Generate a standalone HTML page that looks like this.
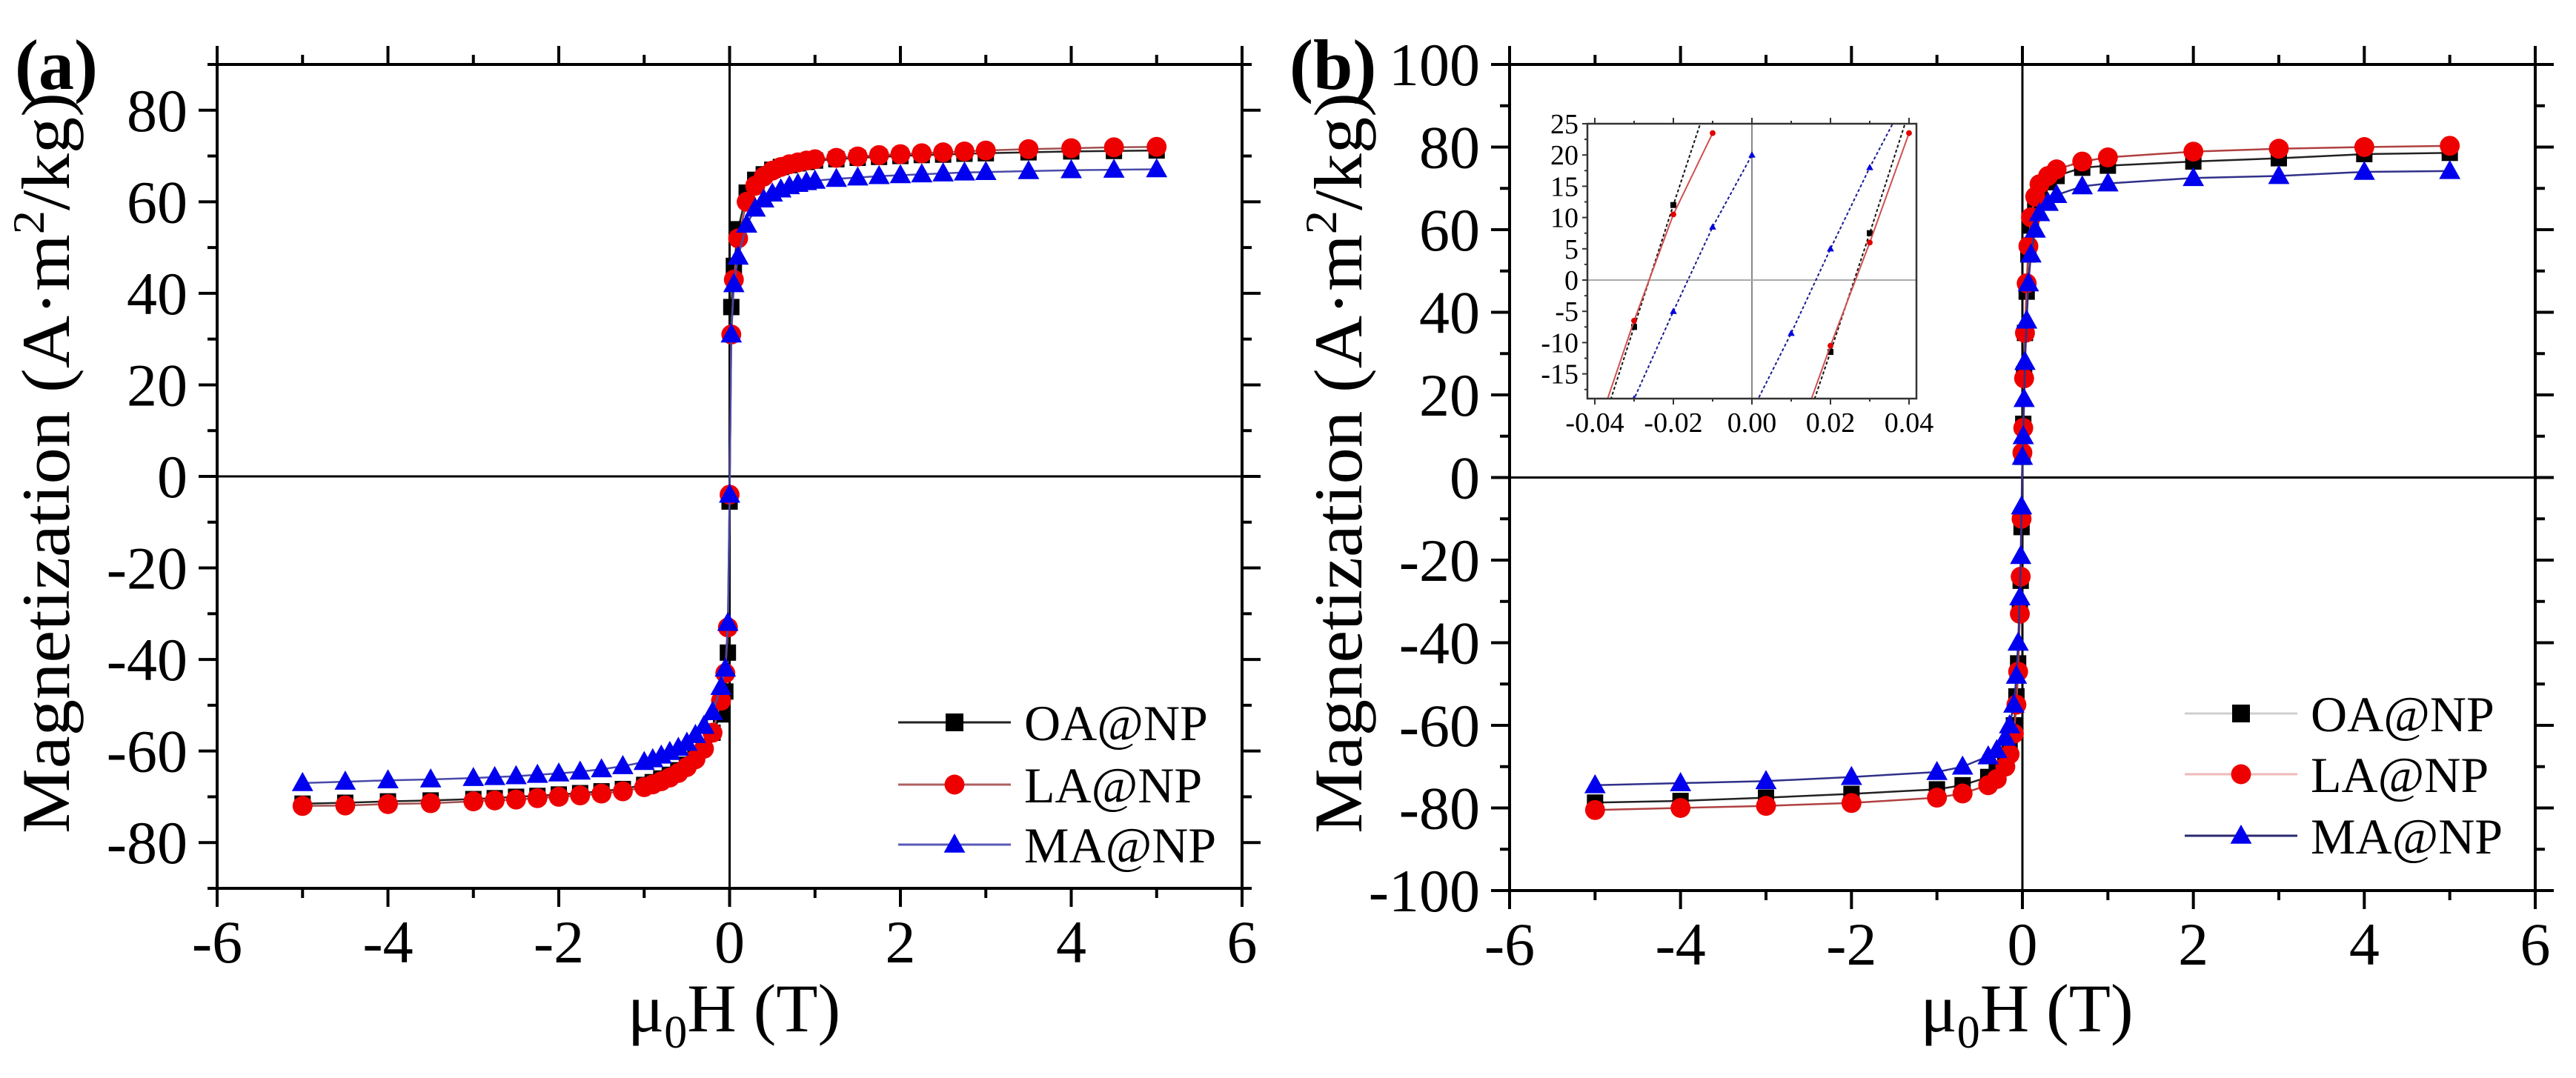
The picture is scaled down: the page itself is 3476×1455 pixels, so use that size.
<!DOCTYPE html>
<html><head><meta charset="utf-8">
<style>
html,body{margin:0;padding:0;background:#fff;}
svg{display:block;font-family:"Liberation Serif","Times New Roman",serif;}
svg text{font-family:"Liberation Serif","Times New Roman",serif;}
</style></head>
<body>
<svg id="fig" width="3476" height="1455" viewBox="0 0 3476 1455" xmlns="http://www.w3.org/2000/svg">
<defs>
<clipPath id="clipInset"><rect x="2142" y="167" width="444" height="371"/></clipPath>
</defs>
</svg>
<script>
// ---------- Panel (a) data ----------
const xA = [-5,-4.5,-4,-3.5,-3,-2.75,-2.5,-2.25,-2,-1.75,-1.5,-1.25,-1,-0.9,-0.8,-0.7,-0.6,-0.5,-0.4,-0.3,-0.2,-0.1,-0.05,-0.02,0,0.02,0.05,0.1,0.2,0.3,0.4,0.5,0.6,0.7,0.8,0.9,1,1.25,1.5,1.75,2,2.25,2.5,2.75,3,3.5,4,4.5,5];
const oaA = [-71.5,-71.3,-71,-70.8,-70.5,-70.3,-70,-69.8,-69.5,-69.2,-68.8,-68.3,-67.4,-66.8,-66,-65.2,-64.2,-63,-61.3,-59,-56,-52,-47,-38.5,-5.5,37,46,54,62,64.8,66,67,67.6,68,68.4,68.7,69,69.3,69.6,69.8,70,70.2,70.3,70.5,70.6,70.8,71,71.1,71.2];
const laA = [-72,-71.9,-71.6,-71.4,-71,-70.8,-70.6,-70.3,-70,-69.7,-69.3,-68.8,-67.9,-67.3,-66.6,-65.8,-64.8,-63.5,-61.8,-59.5,-56,-49,-43,-33,-4,31,43,52,60,63.5,65.5,66.8,67.6,68.2,68.6,69,69.3,69.6,69.9,70.2,70.4,70.6,70.8,71,71.2,71.5,71.7,71.9,72];
const maA = [-67,-66.7,-66.4,-66.2,-65.9,-65.7,-65.5,-65.2,-64.9,-64.5,-64,-63.3,-62.4,-61.8,-61,-60.2,-59.3,-58.2,-56.5,-54.5,-51.5,-46,-42,-32,-4,31,42,48,55,58.5,60.5,61.8,62.7,63.4,63.9,64.3,64.6,65,65.3,65.6,65.8,66,66.2,66.4,66.5,66.7,66.9,67,67.1];
const yTicksA = [-80,-60,-40,-20,0,20,40,60,80];
const xTicks = [-6,-4,-2,0,2,4,6];

// ---------- Panel (b) data ----------
const xB = [-5,-4,-3,-2,-1,-0.7,-0.4,-0.3,-0.2,-0.15,-0.1,-0.07,-0.05,-0.03,-0.02,-0.01,0,0.01,0.02,0.03,0.05,0.07,0.1,0.15,0.2,0.3,0.4,0.7,1,2,3,4,5];
const oaB = [-78.7,-78.3,-77.5,-76.6,-75.5,-74.5,-72.5,-71,-68,-65,-60,-53,-45,-32,-25,-12,5,13,25,35,45,54,61,66,69,71.5,73,75,75.5,76.5,77.3,78.3,78.6];
const laB = [-80.5,-80,-79.5,-78.8,-77.5,-76.5,-74.5,-73,-70,-67,-62,-55,-47,-33,-24,-10,6,12,24,35,47,56,63,68,71,73,74.6,76.5,77.5,78.9,79.6,80,80.3];
const maB = [-74.5,-74,-73.5,-72.5,-71.3,-70,-67.5,-66,-63,-60,-55,-48,-40,-29,-19,-7,5,10,19,28,38,47,54,60,64,66.5,68.4,70.5,71.2,72.5,73,74,74.2];
const yTicksB = [-100,-80,-60,-40,-20,0,20,40,60,80,100];

// ---------- Inset data ----------
const xInDesc = [-0.04,-0.03,-0.02,-0.01];
const oaInDesc = [-27,-7.5,12,31];
const laInDesc = [-25,-6.5,10.5,23.5];
const xInDescMA = [-0.04,-0.03,-0.02,-0.01,0];
const maInDesc = [-33,-19,-5,8.5,20];
const xInAsc = [0.01,0.02,0.03,0.04];
const oaInAsc = [-30,-11.5,7.5,27];
const laInAsc = [-28,-10.5,6,23.5];
const xInAscMA = [0,0.01,0.02,0.03,0.04];
const maInAsc = [-21,-8.5,5,18,30];
const yTicksIn = [-15,-10,-5,0,5,10,15,20,25];
const xTicksIn = [-0.04,-0.02,0,0.02,0.04];
const xTickLabelsIn = ["-0.04","-0.02","0.00","0.02","0.04"];

const NS = "http://www.w3.org/2000/svg";
const FONT = '"Liberation Serif","Times New Roman",serif';
const svg = document.getElementById('fig');
function mk(tag, attrs, parent){
  const e = document.createElementNS(NS, tag);
  for (const k in attrs) e.setAttribute(k, attrs[k]);
  if (tag==='text') e.setAttribute('font-family', FONT);
  (parent||svg).appendChild(e);
  return e;
}
function scale(d0,d1,r0,r1){ return v => r0 + (v-d0)*(r1-r0)/(d1-d0); }

function marker(g, type, x, y, s, fill){
  let e;
  if (type==='square') e = mk('rect',{x:x-s,y:y-s,width:2*s,height:2*s,fill:fill},g);
  else if (type==='circle') e = mk('circle',{cx:x,cy:y,r:s*1.12,fill:fill},g);
  else e = mk('polygon',{points:`${x},${y-s*1.25} ${x+s*1.2},${y+s*0.9} ${x-s*1.2},${y+s*0.9}`,fill:fill},g);
  return e;
}

function series(g, xs, ys, sx, sy, lineColor, type, fill, s, dash, lw){
  const d = xs.map((v,i)=>(i?'L':'M')+sx(v).toFixed(1)+','+sy(ys[i]).toFixed(1)).join(' ');
  const p = mk('path',{d:d,fill:'none',stroke:lineColor,'stroke-width':lw||2.5},g);
  if (dash) p.setAttribute('stroke-dasharray',dash);
  
  
  xs.forEach((v,i)=>{
    const m = marker(g,type,sx(v),sy(ys[i]),s,fill);
    
    
  });
}

function panel(opt){
  const g = mk('g',{});
  
  
  const {L,R,T,B} = opt;
  const sx = scale(-6,6,L,R), sy = scale(opt.ymin,opt.ymax,B,T);
  const zx = mk('line',{x1:sx(0),x2:sx(0),y1:T,y2:B,stroke:'#000','stroke-width':3},g);
   
  const zy = mk('line',{x1:L,x2:R,y1:sy(0),y2:sy(0),stroke:'#000','stroke-width':3},g);
   
  const sg = mk('g',{},g);
   
  opt.series.forEach(s=>series(sg,opt.xs,s.ys,sx,sy,s.line,s.type,s.fill,s.size,null,2.5));
  const fr = mk('rect',{x:L,y:T,width:R-L,height:B-T,fill:'none',stroke:'#000','stroke-width':4},g);
   
  const tg = mk('g',{stroke:'#000','stroke-width':4},g);
   
  for (let v=-6; v<=6; v+=1){
    const len = (v%2===0)?25:13, X=sx(v);
    mk('line',{x1:X,x2:X,y1:B,y2:B+len},tg);
    mk('line',{x1:X,x2:X,y1:T,y2:T-len},tg);
  }
  for (let v=opt.ymin; v<=opt.ymax; v+=10){
    const major = opt.yTicks.indexOf(v)>=0;
    const len = major?25:13, Y=sy(v);
    mk('line',{x1:L,x2:L-len,y1:Y,y2:Y},tg);
    mk('line',{x1:R,x2:R+len,y1:Y,y2:Y},tg);
  }
  opt.yTicks.forEach(v=>{
    const t = mk('text',{x:L-40,y:sy(v)+28,'text-anchor':'end','font-size':82},g);
    t.textContent = v;
     
  });
  xTicks.forEach(v=>{
    const t = mk('text',{x:sx(v),y:B+100,'text-anchor':'middle','font-size':82},g);
    t.textContent = v;
     
  });
  const xt = mk('text',{x:sx(0)+6,y:1392,'text-anchor':'middle','font-size':92},g);
   
  xt.innerHTML = 'μ<tspan font-size="62" dy="22">0</tspan><tspan dy="-22">H (T)</tspan>';
  const yx = L-200, yc = 625;
  const yt = mk('text',{x:0,y:0,'text-anchor':'middle','font-size':92,textLength:1000,lengthAdjust:'spacingAndGlyphs',transform:`translate(${yx},${yc}) rotate(-90)`},g);
   
  yt.innerHTML = 'Magnetization (A·m<tspan font-size="60" dy="-34">2</tspan><tspan dy="34">/kg)</tspan>';
  const pl = mk('text',{x:opt.labX,y:120,'font-size':96,'font-weight':'bold'},g);
  pl.textContent = opt.label;
   
  const lg = mk('g',{},g);
   
  opt.series.forEach((s,i)=>{
    const y = opt.legY[i];
    const e = mk('g',{},lg);
     
    mk('line',{x1:opt.legX,x2:opt.legX+152,y1:y,y2:y,stroke:s.legLine,'stroke-width':3},e);
    marker(e,s.type,opt.legX+76,y,12,s.fill);
    const t = mk('text',{x:opt.legX+170,y:y+24,'font-size':68},e);
    t.textContent = s.name;
  });
  return {sx,sy};
}

panel({name:'panel-a',L:293,R:1676,T:87,B:1199,ymin:-90,ymax:90,yTicks:yTicksA,xs:xA,label:'(a)',labX:20,
  legX:1212,legY:[975,1059,1140],
  series:[
   {name:'OA@NP',ys:oaA,line:'#222',legLine:'#222',type:'square',fill:'#000',size:11},
   {name:'LA@NP',ys:laA,line:'#a05050',legLine:'#b06060',type:'circle',fill:'#ee0000',size:12},
   {name:'MA@NP',ys:maA,line:'#4a4aa8',legLine:'#5a5ab8',type:'triangle',fill:'#0000ee',size:12}
  ]});

panel({name:'panel-b',L:2037,R:3421,T:87,B:1202,ymin:-100,ymax:100,yTicks:yTicksB,xs:xB,label:'(b)',labX:1740,
  legX:2948,legY:[963,1045,1128],
  series:[
   {name:'OA@NP',ys:oaB,line:'#222',legLine:'#cfcfcf',type:'square',fill:'#000',size:11},
   {name:'LA@NP',ys:laB,line:'#b04040',legLine:'#f0b8b8',type:'circle',fill:'#ee0000',size:12},
   {name:'MA@NP',ys:maB,line:'#30308a',legLine:'#2a2a70',type:'triangle',fill:'#0000ee',size:12}
  ]});

(function(){
  const g = mk('g',{});
   
  const L=2142,R=2586,T=167,B=538;
  const sx = scale(-0.04,0.04,2152,2576), sy = scale(0,25,378,167);
  mk('rect',{x:L,y:T,width:R-L,height:B-T,fill:'#fff'},g);
  const z1 = mk('line',{x1:sx(0),x2:sx(0),y1:T,y2:B,stroke:'#888','stroke-width':2},g);
   
  const z2 = mk('line',{x1:L,x2:R,y1:sy(0),y2:sy(0),stroke:'#aaa','stroke-width':2},g);
   
  const cg = mk('g',{'clip-path':'url(#clipInset)'},g);
   
  series(cg,xInDesc,oaInDesc,sx,sy,'#111','square','#000',4,'4,3',2);
  series(cg,xInAsc,oaInAsc,sx,sy,'#111','square','#000',4,'4,3',2);
  series(cg,xInDesc,laInDesc,sx,sy,'#d05050','circle','#e00000',3.5,null,2);
  series(cg,xInAsc,laInAsc,sx,sy,'#d05050','circle','#e00000',3.5,null,2);
  series(cg,xInDescMA,maInDesc,sx,sy,'#1a1a90','triangle','#0000dd',4,'4,3',2);
  series(cg,xInAscMA,maInAsc,sx,sy,'#1a1a90','triangle','#0000dd',4,'4,3',2);
  const fr = mk('rect',{x:L,y:T,width:R-L,height:B-T,fill:'none',stroke:'#333','stroke-width':2.5},g);
   
  const tg = mk('g',{stroke:'#333','stroke-width':2},g);
  for (let v=-17.5; v<=25; v+=2.5){
    const len = (Math.abs(v%5)<0.01)?7:4;
    mk('line',{x1:L,x2:L-len,y1:sy(v),y2:sy(v)},tg);
  }
  for (let v=-0.04; v<=0.0401; v+=0.01){
    const major = Math.abs(Math.round(v*100))%2===0;
    const len = major?8:4;
    mk('line',{x1:sx(v),x2:sx(v),y1:B,y2:B+len},tg);
    mk('line',{x1:sx(v),x2:sx(v),y1:T,y2:T-len},tg);
  }
  yTicksIn.forEach(v=>{
    const t = mk('text',{x:L-12,y:sy(v)+13,'text-anchor':'end','font-size':38},g);
    t.textContent = v;
     
  });
  xTicksIn.forEach((v,i)=>{
    const t = mk('text',{x:sx(v),y:B+45,'text-anchor':'middle','font-size':38},g);
    t.textContent = xTickLabelsIn[i];
     
  });
})();
</script>
</body></html>
